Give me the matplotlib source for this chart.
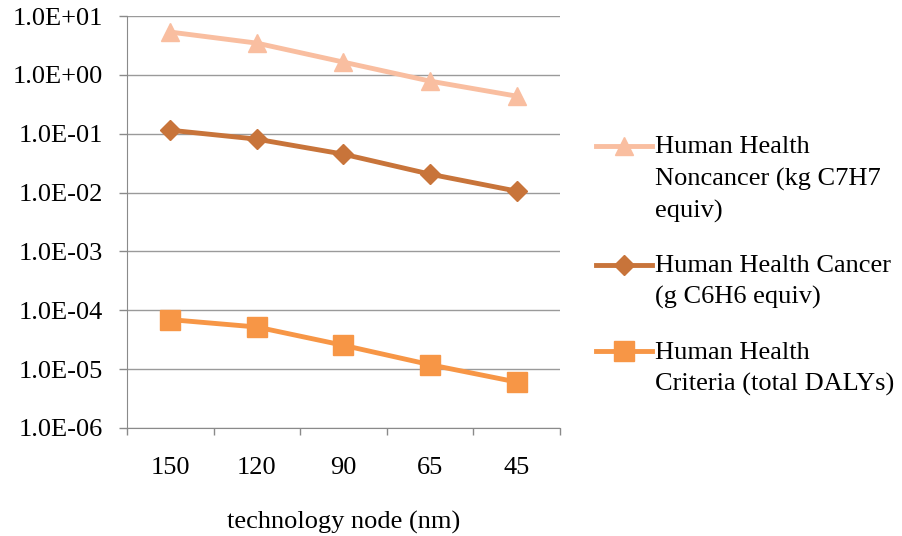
import matplotlib.pyplot as plt
from matplotlib.ticker import FixedLocator, NullFormatter
from matplotlib.legend_handler import HandlerLine2D
import numpy as np

plt.rcParams['font.family'] = ['Liberation Serif', 'DejaVu Serif']

nodes = ["150", "120", "90", "65", "45"]
noncancer = [5.35, 3.47, 1.65, 0.785, 0.436]
cancer = [0.115, 0.081, 0.045, 0.0206, 0.0106]
criteria = [6.95e-5, 5.2e-5, 2.54e-5, 1.19e-5, 6.04e-6]

FS = 19
LINESP = 1.52

x = np.arange(len(nodes))


class FirstLineHandler(HandlerLine2D):
    """Puts the legend key next to the first line of a multi-line label."""

    def create_artists(self, legend, orig_handle, xdescent, ydescent,
                       width, height, fontsize, trans):
        arts = super().create_artists(legend, orig_handle, xdescent, ydescent,
                                      width, height, fontsize, trans)
        nlines = orig_handle.get_label().count("\n") + 1
        shift = (nlines - 1) / 2 * fontsize * LINESP * 0.83
        for a in arts:
            a.set_ydata(np.asarray(a.get_ydata()) + shift)
        return arts


fig = plt.figure(figsize=(9.03, 5.36), dpi=100)
ax = fig.add_axes([0.1406, 0.2015, 0.4795, 0.7685])

l1, = ax.plot(x, noncancer, marker="^", color="#F9BEA0", lw=3.5, ms=13,
              label="Human Health\nNoncancer (kg C7H7\nequiv)")
l2, = ax.plot(x, cancer, marker="D", color="#C8743A", lw=3.5, ms=10,
              label="Human Health Cancer\n(g C6H6 equiv)")
l3, = ax.plot(x, criteria, marker="s", color="#F79646", lw=3.5, ms=14,
              label="Human Health\nCriteria (total DALYs)")

ax.set_yscale("log")
ax.set_ylim(1e-6, 1e1)
ax.set_yticks([10.0 ** k for k in range(-6, 2)])
ax.set_yticklabels(["1.0E%+03d" % k for k in range(-6, 2)])
ax.yaxis.set_minor_locator(FixedLocator([]))
ax.grid(axis="y", color="#9a9a9a", lw=1)
ax.set_axisbelow(True)

ax.set_xlim(-0.5, len(nodes) - 0.5)
ax.set_xticks(x)
ax.set_xticklabels(nodes)
ax.xaxis.set_minor_locator(FixedLocator(np.arange(-0.5, len(nodes), 1.0)))
ax.xaxis.set_minor_formatter(NullFormatter())
ax.tick_params(axis="x", which="major", length=0, pad=21, labelsize=FS)
ax.tick_params(axis="x", which="minor", length=5, color="#8a8a8a", width=1)
ax.tick_params(axis="y", length=6, color="#8a8a8a", width=1, labelsize=FS, pad=11)

for s in ["top", "right"]:
    ax.spines[s].set_visible(False)
for s in ["left", "bottom"]:
    ax.spines[s].set_color("#8a8a8a")

ax.set_xlabel("technology node (nm)", fontsize=FS, labelpad=23)

leg = ax.legend(handles=[l1, l2, l3], loc="center left",
                bbox_to_anchor=(1.06, 0.393), frameon=False,
                fontsize=FS, handlelength=2.1, handletextpad=0.1,
                labelspacing=1.22, borderaxespad=0,
                handler_map={l: FirstLineHandler() for l in (l1, l2, l3)})
for t in leg.get_texts():
    t.set_linespacing(LINESP)

fig.savefig("out.png", dpi=100)
